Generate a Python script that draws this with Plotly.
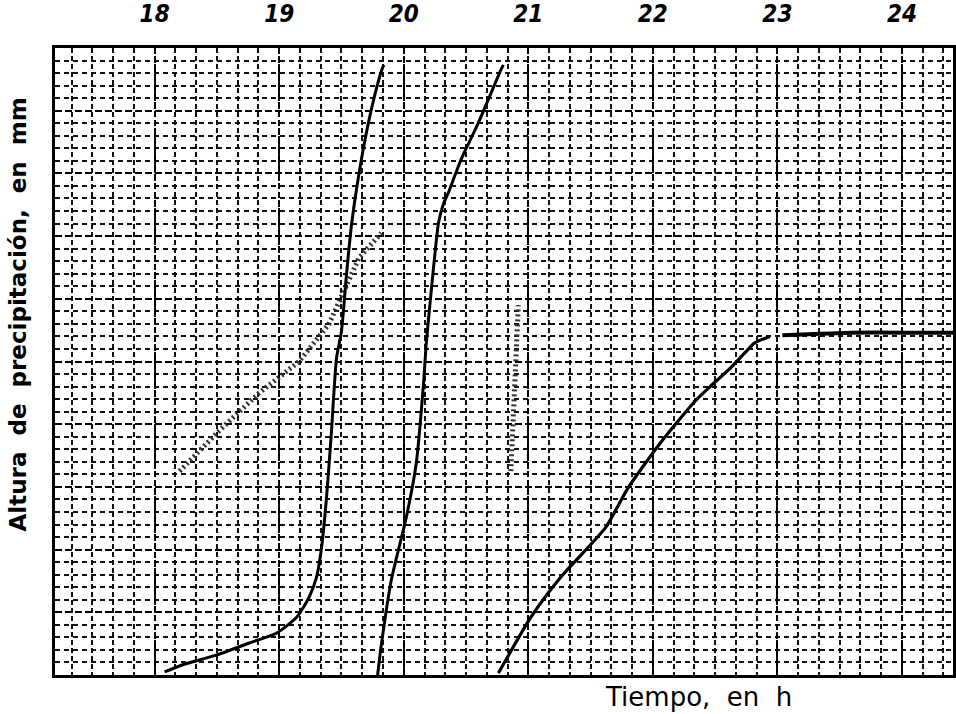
import plotly.graph_objects as go

# ---- data (time in hours, precipitation height in mm) ----
hour_ticks = [18, 19, 20, 21, 22, 23, 24]
hour_labels = ["18", "19", "20", "21", "22", "23", "24"]

c1_t = [18.08, 18.22, 18.50, 18.76, 18.98, 19.14, 19.24, 19.30, 19.34, 19.38,
        19.42, 19.46, 19.50, 19.54, 19.58, 19.66, 19.74, 19.82, 19.84]
c1_mm = [0.05, 0.16, 0.32, 0.51, 0.67, 0.92, 1.24, 1.56, 2.03, 2.83,
         3.89, 5.05, 5.48, 6.38, 7.17, 8.22, 9.02, 9.63, 9.73]

c2_t = [19.79, 19.82, 19.90, 20.02, 20.10, 20.16, 20.18, 20.22, 20.28,
        20.32, 20.36, 20.46, 20.60, 20.78, 20.80]
c2_mm = [0.0, 0.48, 1.51, 2.51, 3.37, 4.68, 5.27, 6.11, 7.22,
         7.52, 7.70, 8.22, 8.81, 9.65, 9.73]

c3_t = [20.76, 21.02, 21.26, 21.62, 21.80, 22.06, 22.34, 22.46, 22.62, 22.74,
        22.82, 22.94]
c3_mm = [0.03, 0.92, 1.56, 2.35, 2.98, 3.70, 4.37, 4.60, 4.89, 5.14,
         5.30, 5.40]

c4_t = [23.04, 23.30, 23.60, 24.00, 24.41]
c4_mm = [5.42, 5.44, 5.46, 5.46, 5.46]

ghost_t = [18.20, 18.52, 18.84, 19.16, 19.40, 19.64, 19.82]
ghost_mm = [3.25, 3.90, 4.50, 5.00, 5.60, 6.65, 7.05]

ghost2_t = [20.86, 20.88, 20.90, 20.92]
ghost2_mm = [3.25, 4.10, 4.90, 5.90]

fig = go.Figure()

for t, m in [(ghost_t, ghost_mm), (ghost2_t, ghost2_mm)]:
    fig.add_trace(go.Scatter(x=t, y=m, mode="lines", line=dict(color="#333", width=5, dash="2px,3px"),
                             hoverinfo="skip", showlegend=False))

for t, m, w in [(c1_t, c1_mm, 3), (c2_t, c2_mm, 3), (c3_t, c3_mm, 3.2), (c4_t, c4_mm, 4)]:
    fig.add_trace(go.Scatter(x=t, y=m, mode="lines", line=dict(color="black", width=w, shape="spline", smoothing=0.6),
                             hoverinfo="skip", showlegend=False))

fig.update_layout(
    width=956, height=714,
    margin=dict(l=55, r=0, t=45, b=39),
    paper_bgcolor="white", plot_bgcolor="white",
    showlegend=False,
    xaxis=dict(
        range=[17.2, 24.41], side="top",
        tickmode="array", tickvals=hour_ticks, ticktext=hour_labels,
        tickfont=dict(family="Liberation Sans Narrow, DejaVu Sans Condensed, sans-serif", size=24,
                      color="black", style="italic", weight="bold"),
        ticks="", ticklabelstandoff=14,
        showgrid=True, gridcolor="#000", gridwidth=2.2, griddash="6px,3px",
        minor=dict(dtick=1/6, tick0=18, showgrid=True, gridcolor="#111", gridwidth=2, griddash="5px,3px"),
        showline=True, linecolor="black", linewidth=2.5, mirror=True,
        zeroline=False, fixedrange=True,
    ),
    yaxis=dict(
        range=[0, 10], tickmode="linear", tick0=0, dtick=1,
        showticklabels=False, ticks="",
        showgrid=True, gridcolor="#000", gridwidth=2.2, griddash="7px,3px",
        minor=dict(dtick=0.2, tick0=0, showgrid=True, gridcolor="#111", gridwidth=2, griddash="5px,4px"),
        showline=True, linecolor="black", linewidth=3, mirror=True,
        zeroline=False, fixedrange=True,
    ),
    annotations=[
        dict(text="Tiempo,  en  h", xref="paper", yref="paper", x=0.717, y=0, yshift=-22,
             xanchor="center", yanchor="middle", showarrow=False,
             font=dict(family="DejaVu Sans", size=26, color="black")),
        dict(text="Altura  de  precipitación,  en  mm", xref="paper", yref="paper", x=0, xshift=-37,
             y=0.575, xanchor="center", yanchor="middle", textangle=-90, showarrow=False,
             font=dict(family="DejaVu Sans", size=23, color="black", weight="bold")),
    ],
)

fig.write_html("out.html")
